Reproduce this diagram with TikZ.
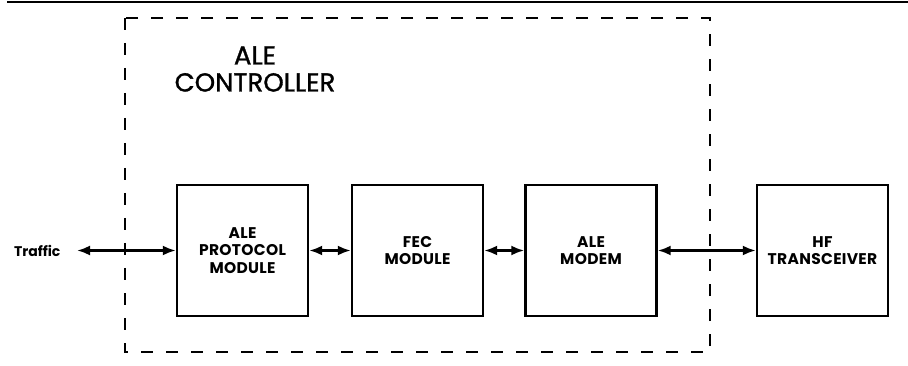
\documentclass[tikz,border=0pt]{standalone}
\usepackage{fontspec}
\setmainfont{Poppins}
\newfontfamily\ctlfont{Poppins}[FakeBold=1.2]
\usetikzlibrary{arrows.meta}
\tikzset{
  blk/.style={draw,line width=2.4pt,minimum width=131pt,minimum height=131pt,
    inner sep=0pt,align=center,
    font=\bfseries\fontsize{15.5}{17.5}\selectfont\addfontfeature{LetterSpace=2}},
  link/.style={line width=2.4pt,{Latex[length=13pt,width=10pt]}-{Latex[length=13pt,width=10pt]}}
}
\begin{document}
\begin{tikzpicture}[x=1pt,y=-1pt]
  \useasboundingbox (0,0) rectangle (908,366);
  \draw[line width=2pt] (7,2) -- (908,2);
  % controller outline
  \draw[line width=2.4pt,dash pattern=on 12pt off 13pt] (125,18) rectangle (710,352);
  \node[align=center,font=\ctlfont\fontsize{26}{27}\selectfont] (ctl) at (255,69) {ALE\\CONTROLLER};
  \node[blk] (proto) at (242.5,250.5) {ALE\\PROTOCOL\\MODULE};
  \node[blk] (fec) at (417.5,250.5) {FEC\\MODULE};
  \node[blk] (modem) at (591,250.5) {ALE\\MODEM};
  \node[blk] (hf) at (822.5,250.5) {HF\\TRANSCEIVER};
  \node[anchor=east,font=\bfseries\fontsize{14}{16}\selectfont] (traffic) at (64,250.5) {Traffic};
  \draw[link] ([xshift=13pt]traffic.east) -- (proto.west);
  \draw[link] (proto.east) -- (fec.west);
  \draw[link] (fec.east) -- (modem.west);
  \draw[link] (modem.east) -- (hf.west);
\end{tikzpicture}
\end{document}
